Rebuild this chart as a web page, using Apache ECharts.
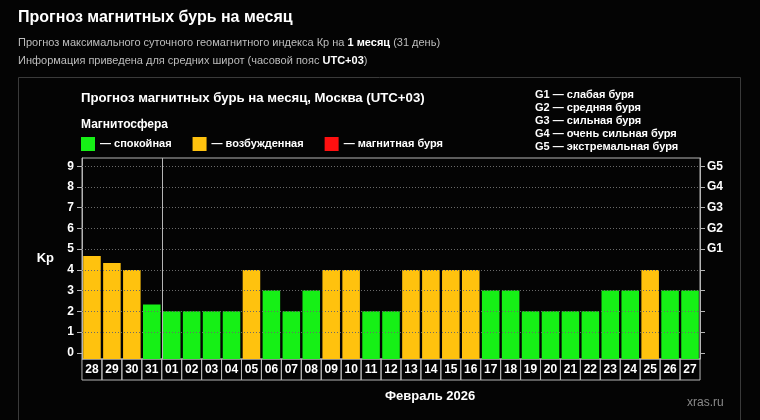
<!DOCTYPE html>
<html>
<head>
<meta charset="utf-8">
<script src="https://cdn.jsdelivr.net/npm/echarts@6/dist/echarts.min.js"></script>
<style>
html,body{margin:0;padding:0;background:#040404;}
#c{width:760px;height:420px;}
</style>
</head>
<body>
<div id="c"></div>
<script>
const days = ['28','29','30','31','01','02','03','04','05','06','07','08','09','10','11','12','13','14','15','16','17','18','19','20','21','22','23','24','25','26','27'];
const kp = [4.67,4.33,4.0,2.33,2,2,2,2,4,3,2,3,4,4,2,2,4,4,4,4,3,3,2,2,2,2,3,3,4,3,3];
const kpTicks = [0,1,2,3,4,5,6,7,8,9];
const gTicks = [5,6,7,8,9];
const gLabels = ['G1','G2','G3','G4','G5'];
const legendNames = ['— спокойная','— возбужденная','— магнитная буря'];
const gLegend = ['G1 — слабая буря','G2 — средняя буря','G3 — сильная буря','G4 — очень сильная буря','G5 — экстремальная буря'];

const GREEN = '#16f016', ORANGE = '#ffc20e', RED = '#ff1010';
const yMin = -0.3, yMax = 9.4;
function colorFor(v){ return v >= 5 ? RED : (v >= 4 ? ORANGE : GREEN); }
const monthStart = days.indexOf('01');

const chart = echarts.init(document.getElementById('c'));
const font = 'Liberation Sans, Arial, sans-serif';
chart.setOption({
  backgroundColor: '#040404',
  animation: false,
  textStyle: {fontFamily: font},
  graphic: [{
    type: 'rect', shape: {x: 18.5, y: 77.5, width: 722, height: 360},
    style: {fill: 'none', stroke: '#3a3a3a', lineWidth: 1}, silent: true
  }],
  title: [
    {text: 'Прогноз магнитных бурь на месяц', left: 18, top: 8, padding: 0,
     textStyle: {color: '#fff', fontSize: 16, fontWeight: 'bold', fontFamily: font, lineHeight: 20}},
    {text: 'Прогноз максимального суточного геомагнитного индекса Кр на {b|1 месяц} (31 день)', left: 18, top: 36, padding: 0,
     textStyle: {color: '#bdbdbd', fontSize: 11, fontWeight: 'normal', fontFamily: font, lineHeight: 14,
       rich: {b: {color: '#fff', fontWeight: 'bold', fontSize: 11, fontFamily: font}}}},
    {text: 'Информация приведена для средних широт (часовой пояс {b|UTC+03})', left: 18, top: 54, padding: 0,
     textStyle: {color: '#bdbdbd', fontSize: 11, fontWeight: 'normal', fontFamily: font, lineHeight: 14,
       rich: {b: {color: '#fff', fontWeight: 'bold', fontSize: 11, fontFamily: font}}}},
    {text: 'Прогноз магнитных бурь на месяц, Москва (UTC+03)', left: 81, top: 90, padding: 0,
     textStyle: {color: '#fff', fontSize: 13.2, fontWeight: 'bold', fontFamily: font, lineHeight: 16}},
    {text: 'Магнитосфера', left: 81, top: 117, padding: 0,
     textStyle: {color: '#fff', fontSize: 12, fontWeight: 'bold', fontFamily: font, lineHeight: 15}},
    {text: gLegend.join('\n'), left: 535, top: 88, padding: 0,
     textStyle: {color: '#fff', fontSize: 11, fontWeight: 'bold', fontFamily: font, lineHeight: 13}},
    {text: 'Февраль 2026', left: 385, top: 388, padding: 0,
     textStyle: {color: '#fff', fontSize: 13, fontWeight: 'bold', fontFamily: font, lineHeight: 16}},
    {text: 'xras.ru', left: 687, top: 396, padding: 0,
     textStyle: {color: '#8a8a8a', fontSize: 12, fontWeight: 'normal', fontFamily: font, lineHeight: 14}}
  ],
  legend: {
    left: 81, top: 137, padding: 0, itemWidth: 14, itemHeight: 14, itemGap: 21,
    icon: 'rect', selectedMode: false,
    data: legendNames,
    textStyle: {color: '#fff', fontSize: 11, fontWeight: 'bold', fontFamily: font, padding: [0,0,0,0]}
  },
  grid: {left: 82, right: 60, top: 158, bottom: 61, show: true, borderColor: '#b5b5b5', borderWidth: 1, backgroundColor: 'transparent'},
  xAxis: {
    type: 'category', data: days, boundaryGap: true,
    axisLine: {show: false}, axisTick: {show: false},
    splitLine: {show: false},
    axisLabel: {
      interval: 0, margin: 0, color: '#fff', fontSize: 12, fontWeight: 'bold', fontFamily: font,
      width: 18, height: 15, lineHeight: 15, align: 'center', verticalAlign: 'top',
      padding: [3, 1, 3, 1], borderColor: '#b5b5b5', borderWidth: 1
    }
  },
  yAxis: [{
    type: 'value', min: yMin, max: yMax, position: 'left',
    name: 'Kp', nameLocation: 'middle', nameRotate: 0, nameGap: 28,
    nameTextStyle: {color: '#fff', fontSize: 13, fontWeight: 'bold', fontFamily: font},
    axisLine: {show: true, lineStyle: {color: '#b5b5b5'}},
    axisTick: {show: true, length: 5, customValues: kpTicks, lineStyle: {color: '#b5b5b5'}},
    axisLabel: {customValues: kpTicks, margin: 8, color: '#fff', fontSize: 12, fontWeight: 'bold', fontFamily: font},
    splitLine: {show: false}
  }, {
    type: 'value', min: yMin, max: yMax, position: 'right',
    axisLine: {show: true, lineStyle: {color: '#b5b5b5'}},
    axisTick: {show: true, length: 5, customValues: kpTicks, lineStyle: {color: '#b5b5b5'}},
    axisLabel: {customValues: gTicks, margin: 7, color: '#fff', fontSize: 12, fontWeight: 'bold', fontFamily: font,
      formatter: function(v){ const k = gTicks.indexOf(Math.round(v)); return k >= 0 ? gLabels[k] : ''; }},
    splitLine: {show: false}
  }],
  series: [
    {type: 'bar', name: legendNames[0], data: [], itemStyle: {color: GREEN}},
    {type: 'bar', name: legendNames[1], data: [], itemStyle: {color: ORANGE}},
    {type: 'bar', name: legendNames[2], data: [], itemStyle: {color: RED}},
    {
      type: 'line', data: [], silent: true, z: 1,
      markLine: {
        silent: true, symbol: 'none', label: {show: false},
        lineStyle: {color: '#6a6a6a', type: [1, 2], width: 1},
        data: kpTicks.filter(function(t){ return t > 0; }).map(function(t){ return {yAxis: t}; })
      }
    },
    {
      type: 'custom', z: 3,
      data: days.map(function(d, i){ return [i, kp[i]]; }),
      encode: {x: 0, y: 1},
      renderItem: function(params, api){
        const i = api.value(0), v = api.value(1);
        const top = api.coord([i, v]);
        const base = api.coord([i, yMin]);
        const step = api.size([1, 0])[0];
        const w = step * 0.88;
        const children = [{type: 'rect', shape: {x: top[0] - w / 2, y: top[1], width: w, height: base[1] - top[1]},
                style: {fill: colorFor(v)}}];
        if (i === monthStart) {
          const up = api.coord([i, yMax]);
          const lx = Math.round(top[0] - step / 2) + 0.5;
          children.push({type: 'line', shape: {x1: lx, y1: up[1], x2: lx, y2: base[1]},
                         style: {stroke: '#b5b5b5', lineWidth: 1}});
        }
        return {type: 'group', children: children};
      }
    }
  ]
});
</script>
</body>
</html>
